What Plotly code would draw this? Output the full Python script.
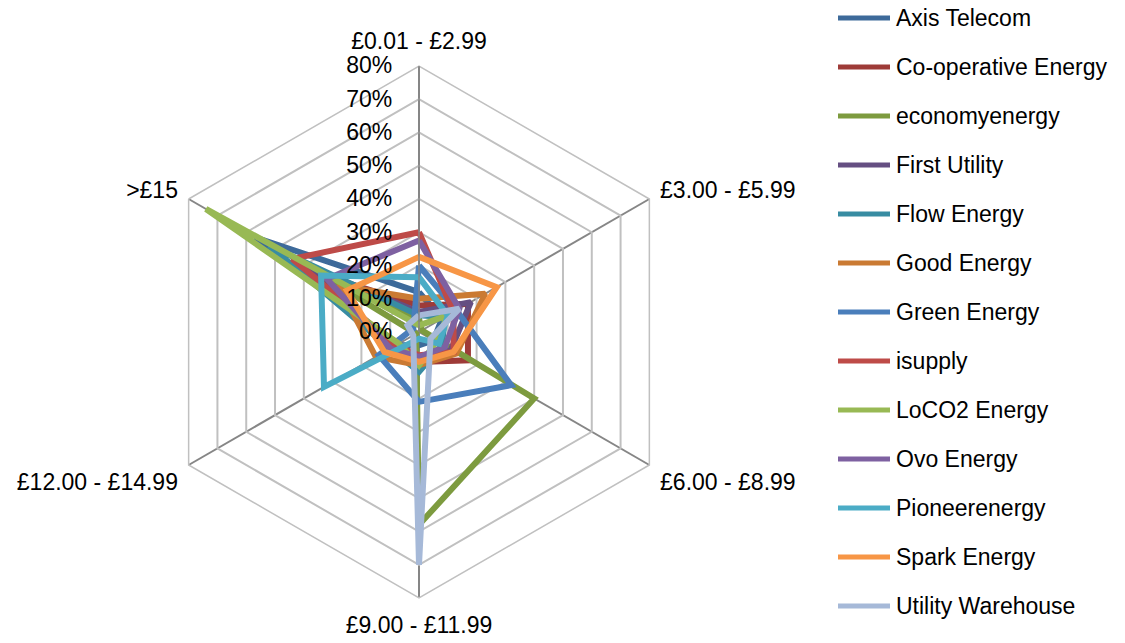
import plotly.graph_objects as go

# Price bands (spokes of the radar), clockwise from the top
bands = ["£0.01 - £2.99", "£3.00 - £5.99", "£6.00 - £8.99",
         "£9.00 - £11.99", "£12.00 - £14.99", ">£15"]

suppliers = ["Axis Telecom", "Co-operative Energy", "economyenergy", "First Utility",
             "Flow Energy", "Good Energy", "Green Energy", "isupply", "LoCO2 Energy",
             "Ovo Energy", "Pioneerenergy", "Spark Energy", "Utility Warehouse"]

# Share of customers in each price band, per supplier
axis_telecom = [0.12, 0.08, 0.05, 0.04, 0.08, 0.57]
cooperative = [0.08, 0.17, 0.17, 0.09, 0.10, 0.35]
economyenergy = [0.04, 0.01, 0.40, 0.58, 0.01, 0.30]
first_utility = [0.06, 0.18, 0.11, 0.08, 0.10, 0.40]
flow_energy = [0.05, 0.09, 0.08, 0.12, 0.10, 0.52]
good_energy = [0.10, 0.23, 0.13, 0.10, 0.15, 0.28]
green_energy = [0.20, 0.13, 0.32, 0.21, 0.14, 0.02]
isupply = [0.30, 0.12, 0.12, 0.07, 0.08, 0.44]
loco2 = [0.02, 0.10, 0.06, 0.10, 0.07, 0.74]
ovo = [0.275, 0.14, 0.09, 0.075, 0.10, 0.32]
pioneer = [0.165, 0.10, 0.07, 0.02, 0.33, 0.34]
spark = [0.226, 0.27, 0.12, 0.09, 0.12, 0.25]
utility_warehouse = [0.05, 0.14, 0.04, 0.70, 0.02, 0.04]

series = [axis_telecom, cooperative, economyenergy, first_utility, flow_energy,
          good_energy, green_energy, isupply, loco2, ovo, pioneer, spark,
          utility_warehouse]

colors = ["#3D6A9A", "#9E3B38", "#7D9B3F", "#654F82", "#388CA2", "#CA7A33",
          "#4A7EBB", "#BE4B48", "#98B954", "#7E61A1", "#4BACC6", "#F79646",
          "#A6B9D8"]

radial_ticks = [0, 0.1, 0.2, 0.3, 0.4, 0.5, 0.6, 0.7, 0.8]
radial_text = ["0%", "10%", "20%", "30%", "40%", "50%", "60%", "70%", "80%"]

FONT = "Liberation Sans, Arial, sans-serif"
FS = 24
W, H = 1125, 643
HIDDEN = "rgba(0,0,0,0)"

fig = go.Figure()
for name, vals, col in zip(suppliers, series, colors):
    fig.add_trace(go.Scatterpolar(
        r=vals + vals[:1], theta=bands + bands[:1], mode="lines", name=name,
        line=dict(color=col, width=6), showlegend=False))

# Legend drawn as line keys and labels on the right
row0, step = 18, 49
for i, (name, col) in enumerate(zip(suppliers, colors)):
    y = 1 - (row0 + i * step) / H
    fig.add_shape(type="line", xref="paper", yref="paper",
                  x0=838 / W, x1=890 / W, y0=y, y1=y,
                  line=dict(color=col, width=5))
    fig.add_annotation(xref="paper", yref="paper", x=894 / W, y=y,
                       text=name, showarrow=False, xanchor="left", yanchor="middle",
                       font=dict(family=FONT, size=FS - 1, color="#000000"))

cx, cy, rad = 419, 332, 266
fig.update_layout(
    width=W, height=H,
    margin=dict(l=0, r=0, t=0, b=0),
    paper_bgcolor="white",
    font=dict(family=FONT, size=FS, color="#000000"),
    polar=dict(
        domain=dict(x=[(cx - rad) / W, (cx + rad) / W],
                    y=[1 - (cy + rad) / H, 1 - (cy - rad) / H]),
        gridshape="linear",
        bgcolor="white",
        radialaxis=dict(range=[0, 0.8], tickvals=radial_ticks, ticktext=radial_text,
                        angle=90, side="counterclockwise", tickangle=90,
                        showline=True, linecolor="#868686", linewidth=1.5,
                        gridcolor="#C0C0C0", gridwidth=1.5,
                        ticks="outside", ticklen=18, tickcolor=HIDDEN,
                        tickfont=dict(family=FONT, size=FS - 1)),
        angularaxis=dict(rotation=90, direction="clockwise",
                         showline=True, linecolor="#C0C0C0", linewidth=1.5,
                         gridcolor="#868686", gridwidth=1.5,
                         ticks="outside", ticklen=7, tickcolor=HIDDEN,
                         tickfont=dict(family=FONT, size=FS - 1)),
    ),
)

fig.write_html("out.html")
